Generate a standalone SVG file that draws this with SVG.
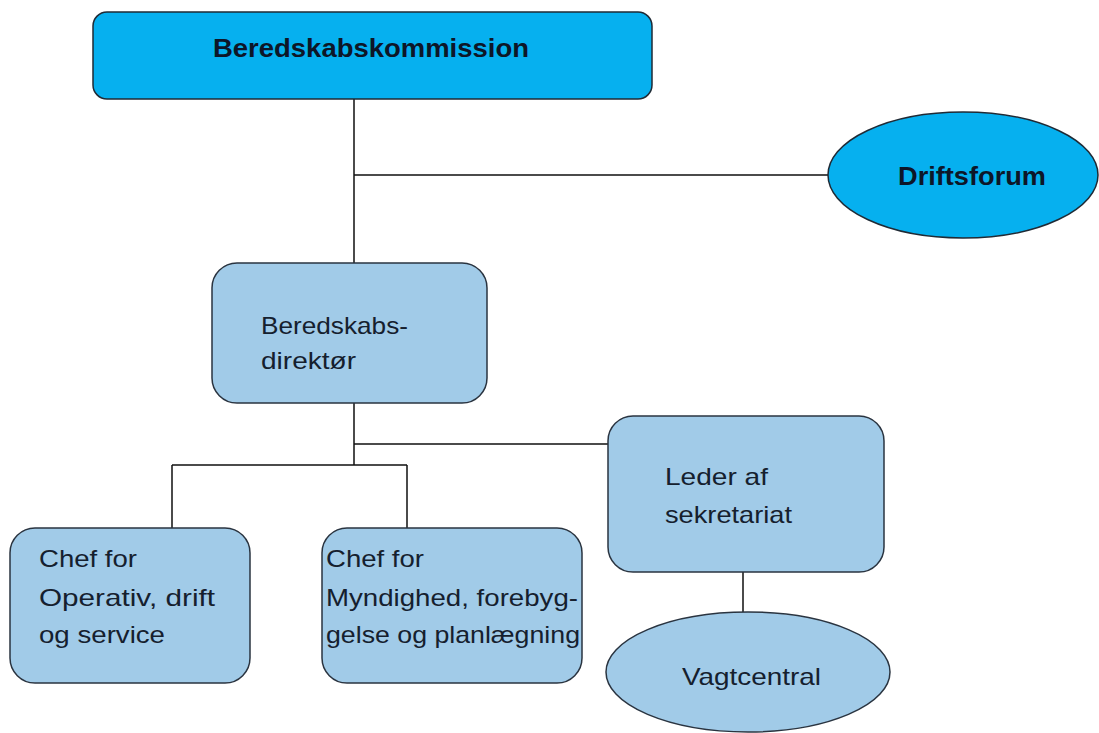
<svg xmlns="http://www.w3.org/2000/svg" width="1099" height="733" viewBox="0 0 1099 733">
<style>
.b{fill:#06b0ef;stroke:#1f2a35;stroke-width:1.5}
.l{fill:#a1cbe8;stroke:#2a3440;stroke-width:1.5}
.c{fill:none;stroke:#111;stroke-width:1.5}
.tb{font-family:"Liberation Sans",Arial,sans-serif;font-weight:bold;font-size:26px;fill:#0d1628}
.t{font-family:"Liberation Sans",Arial,sans-serif;font-size:24px;fill:#15202e}
</style>
<rect width="1099" height="733" fill="#fff"/>
<g id="connectors">
<path class="c" d="M354 99V263M354 175H828M354 403V465M354 444H610M172 465H407M172 465V528M407 465V528M743 572V612"/>
</g>
<g id="beredskabskommission">
<rect class="b" x="93" y="12" width="559" height="87" rx="14"/>
<text class="tb" x="213" y="57" textLength="316" lengthAdjust="spacingAndGlyphs">Beredskabskommission</text>
</g>
<g id="driftsforum">
<ellipse class="b" cx="963" cy="175" rx="135" ry="63"/>
<text class="tb" x="898" y="185" textLength="148" lengthAdjust="spacingAndGlyphs">Driftsforum</text>
</g>
<g id="direktor">
<rect class="l" x="212" y="263" width="275" height="140" rx="25"/>
<text class="t" x="261" y="334" textLength="147" lengthAdjust="spacingAndGlyphs">Beredskabs-</text>
<text class="t" x="261" y="369" textLength="95" lengthAdjust="spacingAndGlyphs">direktør</text>
</g>
<g id="chef-operativ">
<rect class="l" x="10" y="528" width="240" height="155" rx="25"/>
<text class="t" x="39" y="567" textLength="98" lengthAdjust="spacingAndGlyphs">Chef for</text>
<text class="t" x="39" y="606" textLength="176" lengthAdjust="spacingAndGlyphs">Operativ,  drift</text>
<text class="t" x="39" y="643" textLength="126" lengthAdjust="spacingAndGlyphs">og  service</text>
</g>
<g id="chef-myndighed">
<rect class="l" x="322" y="528" width="260" height="155" rx="25"/>
<text class="t" x="326" y="567" textLength="98" lengthAdjust="spacingAndGlyphs">Chef for</text>
<text class="t" x="326" y="606" textLength="252" lengthAdjust="spacingAndGlyphs">Myndighed,  forebyg-</text>
<text class="t" x="326" y="643" textLength="254" lengthAdjust="spacingAndGlyphs">gelse  og planlægning</text>
</g>
<g id="leder-sekretariat">
<rect class="l" x="608" y="416" width="276" height="156" rx="25"/>
<text class="t" x="665" y="485" textLength="103" lengthAdjust="spacingAndGlyphs">Leder  af</text>
<text class="t" x="665" y="523" textLength="127" lengthAdjust="spacingAndGlyphs">sekretariat</text>
</g>
<g id="vagtcentral">
<ellipse class="l" cx="748" cy="672" rx="142" ry="60"/>
<text class="t" x="682" y="685" textLength="139" lengthAdjust="spacingAndGlyphs">Vagtcentral</text>
</g>
</svg>
